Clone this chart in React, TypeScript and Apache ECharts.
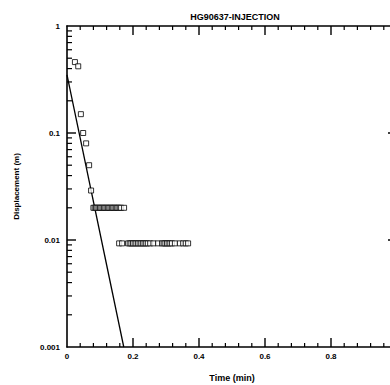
import React, { useEffect, useRef } from "react";
import * as echarts from "echarts";

const titleText = "HG90637-INJECTION";
const xName = "Time (min)";
const yName = "Displacement (m)";

const xTicks = [0, 0.2, 0.4, 0.6, 0.8, 1.0];
const xMinorFractions = [0.2, 0.4, 0.6, 0.8];
const yMajorTicks = [0.001, 0.01, 0.1, 1];
const yTickLabels = ["0.001", "0.01", "0.1", "1"];
const yMantissas = [2, 3, 4, 5, 6, 7, 8, 9];
const yDecades = [0.001, 0.01, 0.1];

// early-time measured displacement
const earlyT = [0.024, 0.034, 0.042, 0.049, 0.058, 0.067, 0.073];
const earlyV = [0.46, 0.42, 0.15, 0.1, 0.08, 0.05, 0.029];

// plateau at ~0.02 m
const band1T = [0.08, 0.084, 0.088, 0.092, 0.096, 0.1, 0.104, 0.108, 0.112, 0.116, 0.12, 0.124, 0.128, 0.132, 0.136, 0.14, 0.144, 0.148, 0.152, 0.156, 0.16, 0.164, 0.173];
const band1V = 0.02;

// plateau at ~0.009 m
const band2T = [0.158, 0.167, 0.185, 0.19, 0.195, 0.2, 0.205, 0.21, 0.215, 0.22, 0.225, 0.23, 0.235, 0.24, 0.245, 0.252, 0.262, 0.276, 0.288, 0.293, 0.298, 0.303, 0.308, 0.313, 0.318, 0.327, 0.342, 0.352, 0.36, 0.367];
const band2V = 0.0093;

// fitted straight line
const fitT = [0, 0.172];
const fitV = [0.35, 0.001];

const FONT = "Liberation Sans";

const mkAxisLine = () => ({ show: true, onZero: false, lineStyle: { color: "#000", width: 1.6 } });

const stroke = (x1: number, y1: number, x2: number, y2: number, w: number) => ({
  type: "line",
  shape: { x1, y1, x2, y2 },
  style: { stroke: "#000", lineWidth: w },
});

const xTickSeries = (data: number[][], len: number, w: number) => ({
  type: "custom",
  data,
  silent: true,
  clip: false,
  z: 4,
  renderItem: (params: any, api: any) => {
    const x = api.value(0);
    const pB = api.coord([x, 0.001]);
    const pT = api.coord([x, 1]);
    return {
      type: "group",
      children: [stroke(pB[0], pB[1], pB[0], pB[1] - len, w), stroke(pT[0], pT[1], pT[0], pT[1] + len, w)],
    };
  },
});

const yTickSeries = (data: number[][], len: number, w: number) => ({
  type: "custom",
  data,
  silent: true,
  clip: false,
  z: 4,
  renderItem: (params: any, api: any) => {
    const y = api.value(1);
    const pL = api.coord([0, y]);
    const pR = api.coord([1, y]);
    return {
      type: "group",
      children: [stroke(pL[0], pL[1], pL[0] + len, pL[1], w), stroke(pR[0] - len, pR[1], pR[0], pR[1], w)],
    };
  },
});

export default function App() {
  const ref = useRef<HTMLDivElement>(null);
  useEffect(() => {
    if (!ref.current) return;
    const chart = echarts.init(ref.current, null, { renderer: "svg" });
    const scatter: number[][] = [];
    earlyT.forEach((t, i) => scatter.push([t, earlyV[i]]));
    band1T.forEach((t) => scatter.push([t, band1V]));
    band2T.forEach((t) => scatter.push([t, band2V]));

    const xMajor: number[][] = [];
    const xMinor: number[][] = [];
    xTicks.forEach((t, i) => {
      if (i > 0 && i < xTicks.length - 1) xMajor.push([t, 0.01]);
      if (i < xTicks.length - 1) xMinorFractions.forEach((f) => xMinor.push([t + f * 0.2, 0.01]));
    });
    const yMajor: number[][] = [];
    yMajorTicks.forEach((v, i) => {
      if (i > 0 && i < yMajorTicks.length - 1) yMajor.push([0.5, v]);
    });
    const yMinor: number[][] = [];
    yDecades.forEach((d) => yMantissas.forEach((m) => yMinor.push([0.5, m * d])));

    chart.setOption({
      animation: false,
      title: {
        text: titleText,
        left: 230,
        top: 7,
        textAlign: "center",
        textStyle: { fontFamily: FONT, fontSize: 9, fontWeight: "bold", color: "#000" },
      },
      grid: { left: 67, top: 26, right: -7, bottom: 38, containLabel: false, outerBoundsMode: "none" },
      xAxis: [
        {
          type: "value",
          min: 0,
          max: 1,
          interval: 0.2,
          position: "bottom",
          axisLine: mkAxisLine(),
          axisTick: { show: false },
          splitLine: { show: false },
          name: xName,
          nameLocation: "middle",
          nameGap: 26,
          nameTextStyle: { fontFamily: FONT, fontSize: 9, fontWeight: "bold", color: "#000" },
          axisLabel: {
            show: true,
            margin: 5,
            fontFamily: FONT,
            fontSize: 8,
            fontWeight: "bold",
            color: "#000",
            formatter: (v: number) => {
              const i = xTicks.findIndex((t) => Math.abs(t - v) < 1e-9);
              return i >= 0 && i < xTicks.length - 1 ? (i === 0 ? "0" : xTicks[i].toFixed(1)) : "";
            },
          },
        },
        {
          type: "value",
          min: 0,
          max: 1,
          interval: 0.2,
          position: "top",
          axisLine: mkAxisLine(),
          axisTick: { show: false },
          splitLine: { show: false },
          axisLabel: { show: false },
        },
      ],
      yAxis: [
        {
          type: "log",
          logBase: 10,
          min: 0.001,
          max: 1,
          position: "left",
          axisLine: mkAxisLine(),
          axisTick: { show: false },
          splitLine: { show: false },
          name: yName,
          nameLocation: "middle",
          nameRotate: 90,
          nameGap: 47,
          nameTextStyle: { fontFamily: FONT, fontSize: 8, fontWeight: "bold", color: "#000" },
          axisLabel: {
            show: true,
            margin: 7,
            fontFamily: FONT,
            fontSize: 8,
            fontWeight: "bold",
            color: "#000",
            formatter: (v: number) => {
              const k = Math.round(Math.log10(v)) + 3;
              return yTickLabels[k] ?? "";
            },
          },
        },
        {
          type: "log",
          logBase: 10,
          min: 0.001,
          max: 1,
          position: "right",
          axisLine: mkAxisLine(),
          axisTick: { show: false },
          splitLine: { show: false },
          axisLabel: { show: false },
        },
      ],
      series: [
        {
          type: "line",
          data: fitT.map((t, i) => [t, fitV[i]]),
          showSymbol: false,
          symbol: "none",
          lineStyle: { color: "#000", width: 1.3 },
          z: 2,
        },
        {
          type: "scatter",
          data: scatter,
          symbol: "rect",
          symbolSize: 5,
          itemStyle: { color: "#fff", borderColor: "#000", borderWidth: 1 },
          z: 3,
        },
        xTickSeries(xMajor, 9, 1.4),
        xTickSeries(xMinor, 4, 1.2),
        yTickSeries(yMajor, 9, 1.4),
        yTickSeries(yMinor, 5, 1.2),
      ],
    });
    return () => chart.dispose();
  }, []);
  return (
    <div
      ref={ref}
      style={{ position: "absolute", left: 0, top: 0, width: 390, height: 385, background: "#fff" }}
    />
  );
}
